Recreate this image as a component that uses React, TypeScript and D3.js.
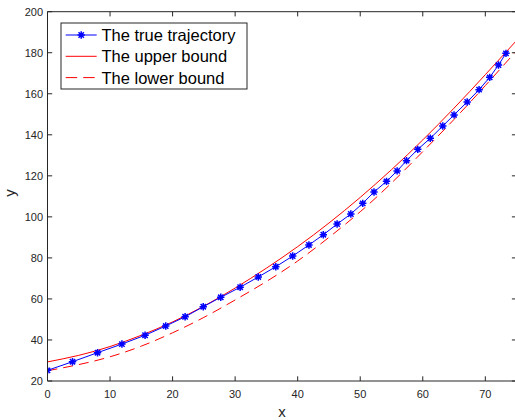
import * as d3 from "d3";

// true trajectory (markers)
const trueX = [0, 4.0, 8.0, 11.9, 15.6, 18.9, 22.0, 24.9, 27.7, 30.8, 33.7, 36.5, 39.2, 41.8, 44.1, 46.3, 48.5, 50.4, 52.2, 54.2, 55.9, 57.4, 59.2, 61.2, 63.2, 65.0, 67.1, 69.0, 70.7, 72.1, 73.3];
const trueY = [25.2, 29.4, 33.8, 38.0, 42.3, 46.8, 51.3, 56.2, 60.8, 65.7, 70.7, 75.7, 80.9, 86.3, 91.3, 96.5, 101.4, 106.6, 112.1, 117.3, 122.4, 127.4, 132.9, 138.3, 144.3, 149.7, 156.0, 162.0, 168.0, 174.0, 179.7];

// bounds, sampled every 5 units of x
const boundX = [0, 5, 10, 15, 20, 25, 30, 35, 40, 45, 50, 55, 60, 65, 70, 75];
const upperY = [29.3, 32.5, 36.8, 42.3, 48.8, 56.5, 65.3, 75.0, 85.5, 97.0, 109.5, 123.0, 137.5, 153.0, 169.3, 186.0];
const lowerY = [25.0, 28.0, 31.8, 37.0, 43.5, 51.0, 59.5, 68.5, 78.5, 90.0, 102.5, 116.5, 131.8, 147.5, 164.0, 181.0];

const xTicks = [0, 10, 20, 30, 40, 50, 60, 70];
const yTicks = [20, 40, 60, 80, 100, 120, 140, 160, 180, 200];
const legendLabels = ["The true trajectory", "The upper bound", "The lower bound"];

const W = 515;
const H = 420;
const axisColor = "#262626";
const font = "'Liberation Sans', Arial, Helvetica, sans-serif";
const dash = "10,6";

const star = (cx: number, cy: number, r: number) =>
  `M${cx - r},${cy}L${cx + r},${cy}M${cx},${cy - r}L${cx},${cy + r}` +
  `M${cx - r * 0.72},${cy - r * 0.72}L${cx + r * 0.72},${cy + r * 0.72}` +
  `M${cx - r * 0.72},${cy + r * 0.72}L${cx + r * 0.72},${cy - r * 0.72}`;

export default function App() {
  const x = d3.scaleLinear().domain([0, 75]).range([47.5, 516.6]);
  const y = d3.scaleLinear().domain([20, 200]).range([381, 11.7]);

  const line = d3
    .line<[number, number]>()
    .x((d) => x(d[0]))
    .y((d) => y(d[1]));

  const smooth = d3
    .line<[number, number]>()
    .x((d) => x(d[0]))
    .y((d) => y(d[1]))
    .curve(d3.curveNatural);

  const trueData = trueX.map((v, i) => [v, trueY[i]] as [number, number]);
  const upperData = boundX.map((v, i) => [v, upperY[i]] as [number, number]);
  const lowerData = boundX.map((v, i) => [v, lowerY[i]] as [number, number]);

  const [x0, x1] = x.range();
  const [yb, yt] = y.range();
  const tk = 4.7;

  return (
    <svg
      width={W}
      height={H}
      style={{ position: "absolute", left: 0, top: 0, background: "#fff" }}
      fontFamily={font}
    >
      <defs>
        <clipPath id="plot">
          <rect x={x0} y={yt} width={x1 - x0} height={yb - yt} />
        </clipPath>
      </defs>
      <rect x={0} y={0} width={W} height={H} fill="#fff" />

      <g clipPath="url(#plot)" fill="none" strokeWidth={1}>
        <path d={smooth(upperData) ?? ""} stroke="#ff0000" />
        <path d={smooth(lowerData) ?? ""} stroke="#ff0000" strokeDasharray={dash} />
        <path d={line(trueData) ?? ""} stroke="#0000ff" />
        {trueData.map((d, i) => (
          <path key={i} d={star(x(d[0]), y(d[1]), 3.7)} stroke="#0000ff" strokeWidth={1.5} />
        ))}
      </g>

      {/* axes box */}
      <g stroke={axisColor} strokeWidth={1} fill="none">
        <line x1={x0} x2={x0} y1={yt} y2={yb} />
        <line x1={x0} x2={x1} y1={yb} y2={yb} />
        <line x1={x0} x2={x1} y1={yt} y2={yt} />
        <line x1={x1} x2={x1} y1={yt} y2={yb} />
        {xTicks.map((t) => (
          <g key={t}>
            <line x1={x(t)} x2={x(t)} y1={yb} y2={yb - tk} />
            <line x1={x(t)} x2={x(t)} y1={yt} y2={yt + tk} />
          </g>
        ))}
        {yTicks.map((t) => (
          <g key={t}>
            <line x1={x0} x2={x0 + tk} y1={y(t)} y2={y(t)} />
            <line x1={x1} x2={x1 - tk} y1={y(t)} y2={y(t)} />
          </g>
        ))}
      </g>

      <g fill={axisColor} fontSize={11}>
        {xTicks.map((t) => (
          <text key={t} x={x(t)} y={398} textAnchor="middle">
            {t}
          </text>
        ))}
        {yTicks.map((t) => (
          <text key={t} x={43} y={y(t)} dy="0.36em" textAnchor="end">
            {t}
          </text>
        ))}
      </g>

      <text x={282} y={417} textAnchor="middle" fontSize={15} fill={axisColor}>
        x
      </text>
      <text
        transform="translate(15,193) rotate(-90)"
        textAnchor="middle"
        fontSize={15}
        fill={axisColor}
      >
        y
      </text>

      {/* legend */}
      <g>
        <rect x={61} y={23} width={186} height={66} fill="#fff" stroke={axisColor} strokeWidth={1} />
        {legendLabels.map((lab, i) => {
          const cy = 35 + i * 21.3;
          return (
            <g key={lab}>
              <line
                x1={65.7}
                x2={96.7}
                y1={cy}
                y2={cy}
                stroke={i === 0 ? "#0000ff" : "#ff0000"}
                strokeDasharray={i === 2 ? "11.5,6" : undefined}
              />
              {i === 0 && <path d={star(81.2, cy, 3.7)} stroke="#0000ff" strokeWidth={1.5} />}
              <text x={101.5} y={cy} dy="0.36em" fontSize={16.5} fill="#000">
                {lab}
              </text>
            </g>
          );
        })}
      </g>
    </svg>
  );
}
